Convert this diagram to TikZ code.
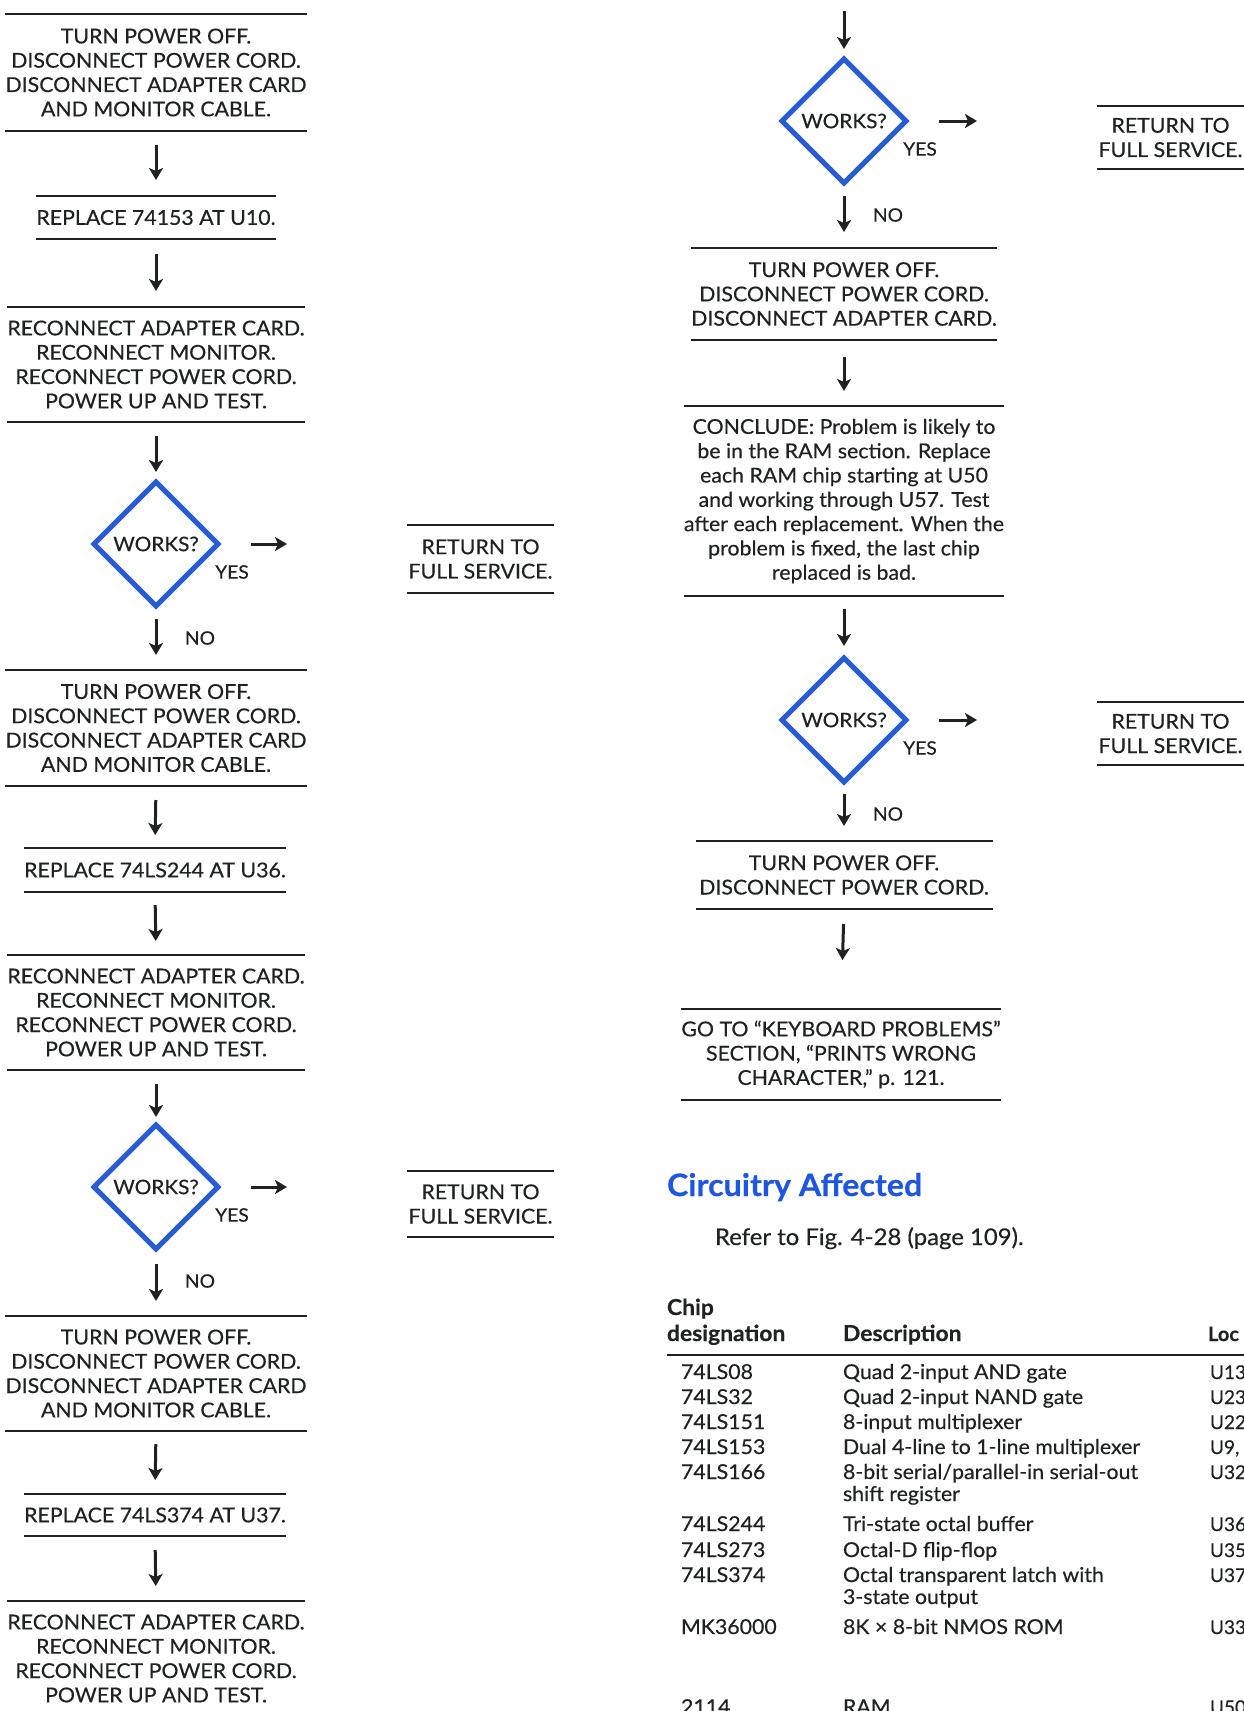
\documentclass[tikz,border=0pt]{standalone}
\usepackage{fontspec}
\setmainfont{Lato}[FakeStretch=1.04,FakeBold=0.35]
\newfontfamily\locfont{Lato}[FakeBold=0.35]
\usetikzlibrary{shapes.geometric,arrows.meta}
\definecolor{ink}{RGB}{30,34,34}
\definecolor{dblue}{RGB}{40,92,210}
\definecolor{hblue}{RGB}{30,85,225}
\begin{document}
\begin{tikzpicture}[x=1pt,y=-1pt,
  every node/.style={text=ink, font=\fontsize{20.5}{24.3}\selectfont, inner sep=0pt, outer sep=0pt},
  rule/.style={draw=ink, line width=1.5pt},
  rulebox/.style 2 args={align=center, minimum width=#1, minimum height=#2,
    append after command={(\tikzlastnode.north west) edge[rule] (\tikzlastnode.north east)
                          (\tikzlastnode.south west) edge[rule] (\tikzlastnode.south east)}},
  ruleboxtop/.style 2 args={align=center, minimum width=#1, minimum height=#2,
    append after command={(\tikzlastnode.north west) edge[rule] (\tikzlastnode.north east)}},
  works/.style={diamond, aspect=1, draw=dblue, line width=5pt, minimum width=124, minimum height=124,
    font=\fontsize{20}{23}\selectfont},
  lbl/.style={font=\fontsize{18.5}{21}\selectfont},
  arr/.style={draw=ink, line width=3pt, -{Stealth[length=12pt,width=14pt,inset=3pt]}},
  cell/.style={anchor=base west, font=\fontsize{20.5}{24}\selectfont},
  loccell/.style={anchor=base west, font=\locfont\fontsize{19}{24}\selectfont},
  hcell/.style={anchor=base west, font=\bfseries\fontsize{22}{26}\selectfont}
]
\fill[white] (0,0) rectangle (1244,1711);
\useasboundingbox (0,0) rectangle (1244,1711);

% ---------------- left column ----------------
\node[rulebox={296}{117}] (b1) at (156,72.5) {TURN POWER OFF.\\DISCONNECT POWER CORD.\\DISCONNECT ADAPTER CARD\\AND MONITOR CABLE.};
\node[rulebox={234}{43}] (b2) at (156,217.5) {REPLACE 74153 AT U10.};
\node[rulebox={296}{115}] (b3) at (156,364.5) {RECONNECT ADAPTER CARD.\\RECONNECT MONITOR.\\RECONNECT POWER CORD.\\POWER UP AND TEST.};
\node[works] (d1) at (156,544) {WORKS?};
\node[rulebox={147}{68}] (r1) at (480.5,559) {RETURN TO\\FULL SERVICE.};
\node[rulebox={296}{116}] (b4) at (156,728) {TURN POWER OFF.\\DISCONNECT POWER CORD.\\DISCONNECT ADAPTER CARD\\AND MONITOR CABLE.};
\node[rulebox={256}{44}] (b5) at (155,870) {REPLACE 74LS244 AT U36.};
\node[rulebox={296}{115}] (b6) at (156,1012.5) {RECONNECT ADAPTER CARD.\\RECONNECT MONITOR.\\RECONNECT POWER CORD.\\POWER UP AND TEST.};
\node[works] (d2) at (156,1187) {WORKS?};
\node[rulebox={147}{66}] (r2) at (480.5,1204) {RETURN TO\\FULL SERVICE.};
\node[rulebox={296}{115}] (b7) at (156,1373.5) {TURN POWER OFF.\\DISCONNECT POWER CORD.\\DISCONNECT ADAPTER CARD\\AND MONITOR CABLE.};
\node[rulebox={256}{42}] (b8) at (155,1515) {REPLACE 74LS374 AT U37.};
\node[ruleboxtop={296}{115}] (b9) at (156,1658.5) {RECONNECT ADAPTER CARD.\\RECONNECT MONITOR.\\RECONNECT POWER CORD.\\POWER UP AND TEST.};

\draw[arr, shorten <=14pt, shorten >=16pt] (b1) -- (b2);
\draw[arr, shorten <=15pt, shorten >=16pt] (b2) -- (b3);
\draw[arr, shorten <=14pt, shorten >=10pt] (b3.south) -- (d1.north);
\draw[arr, shorten <=13pt, shorten >=15pt] (d1.south) -- (b4.north);
\draw[arr, shorten <=14pt, shorten >=13pt] (b4.south) -- (b5.north);
\draw[arr, shorten <=13pt, shorten >=14pt] (b5.south) -- (b6.north);
\draw[arr, shorten <=14pt, shorten >=8pt] (b6.south) -- (d2.north);
\draw[arr, shorten <=15pt, shorten >=15pt] (d2.south) -- (b7.north);
\draw[arr, shorten <=13pt, shorten >=14pt] (b7.south) -- (b8.north);
\draw[arr, shorten <=14pt, shorten >=15pt] (b8.south) -- (b9.north);
\draw[arr, shorten <=33pt, shorten >=120pt] (d1.east) -- (d1.east -| r1.west);
\draw[arr, shorten <=33pt, shorten >=120pt] (d2.east) -- (d2.east -| r2.west);
\node[lbl] (y1) at ([shift={(76,28)}]d1.center) {YES};
\node[lbl] (n1) at ([shift={(44,94)}]d1.center) {NO};
\node[lbl] (y2) at ([shift={(76,28)}]d2.center) {YES};
\node[lbl] (n2) at ([shift={(44,94)}]d2.center) {NO};

% ---------------- right column ----------------
\coordinate (in0) at (844,11);
\node[works] (d3) at (844,121) {WORKS?};
\node[rulebox={147}{63}] (r3) at (1170.5,137.5) {RETURN TO\\FULL SERVICE.};
\node[rulebox={297}{92}] (b10) at (844,294) {TURN POWER OFF.\\DISCONNECT POWER CORD.\\DISCONNECT ADAPTER CARD.};
\node[rulebox={297}{190}] (b11) at (844,501) {CONCLUDE: Problem is likely to\\be in the RAM section. Replace\\each RAM chip starting at U50\\and working through U57. Test\\after each replacement. When the\\problem is fixed, the last chip\\replaced is bad.};
\node[works] (d4) at (844,720) {WORKS?};
\node[rulebox={147}{63}] (r4) at (1170.5,733.5) {RETURN TO\\FULL SERVICE.};
\node[rulebox={297}{68}] (b12) at (844,875) {TURN POWER OFF.\\DISCONNECT POWER CORD.};
\node[rulebox={320}{91}] (b13) at (841,1054.5) {GO TO “KEYBOARD PROBLEMS”\\SECTION, “PRINTS WRONG\\CHARACTER,” p. 121.};

\draw[arr, shorten >=10pt] (in0) -- (d3.north);
\draw[arr, shorten <=13pt, shorten >=16pt] (d3.south) -- (b10.north);
\draw[arr, shorten <=17pt, shorten >=15pt] (b10.south) -- (b11.north);
\draw[arr, shorten <=13pt, shorten >=12pt] (b11.south) -- (d4.north);
\draw[arr, shorten <=12pt, shorten >=15pt] (d4.south) -- (b12.north);
\draw[arr, shorten <=15pt, shorten >=49pt] (b12.south) -- (b13.north);
\draw[arr, shorten <=33pt, shorten >=120pt] (d3.east) -- (d3.east -| r3.west);
\draw[arr, shorten <=33pt, shorten >=120pt] (d4.east) -- (d4.east -| r4.west);
\node[lbl] (y3) at ([shift={(76,28)}]d3.center) {YES};
\node[lbl] (n3) at ([shift={(44,94)}]d3.center) {NO};
\node[lbl] (y4) at ([shift={(76,28)}]d4.center) {YES};
\node[lbl] (n4) at ([shift={(44,94)}]d4.center) {NO};

% ---------------- circuitry affected ----------------
\node[anchor=base west, text=hblue, font=\bfseries\fontsize{31}{36}\selectfont] (head) at (667,1196) {Circuitry Affected};
\node[anchor=base west, font=\fontsize{23}{28}\selectfont] (refer) at (715,1245) {Refer to Fig. 4-28 (page 109).};

\node[hcell] (hc1) at (667,1315) {Chip};
\node[hcell] (hc2) at (667,1341) {designation};
\node[hcell] (hd) at (843,1341) {Description};
\node[anchor=base west, font=\locfont\bfseries\fontsize{20}{24}\selectfont] (hl) at (1208,1341) {Loc};
\draw[draw=ink, line width=2.5pt] (hc2.base west) ++(0,14) coordinate (rl) -- (rl -| 1244,0);

\foreach \y/\c/\d/\l [count=\i] in {
  1379/74LS08/Quad 2-input AND gate/U13,
  1404/74LS32/Quad 2-input NAND gate/U23,
  1429/74LS151/8-input multiplexer/U22,
  1454/74LS153/Dual 4-line to 1-line multiplexer/{U9,},
  1479/74LS166/8-bit serial\slash parallel-in serial-out/U32,
  1531/74LS244/Tri-state octal buffer/U36,
  1557/74LS273/Octal-D flip-flop/U35,
  1582/74LS374/Octal transparent latch with/U37,
  1634/MK36000/8K × 8-bit NMOS ROM/U33,
  1714/2114/RAM/U50}{
  \node[cell] (c\i) at (681,\y) {\c};
  \node[cell] (e\i) at (843,\y) {\d};
  \node[loccell] (l\i) at (1210,\y) {\l};
}
\node[cell] (e5b) at (843,1501) {shift register};
\node[cell] (e8b) at (843,1604) {3-state output};
\end{tikzpicture}
\end{document}
